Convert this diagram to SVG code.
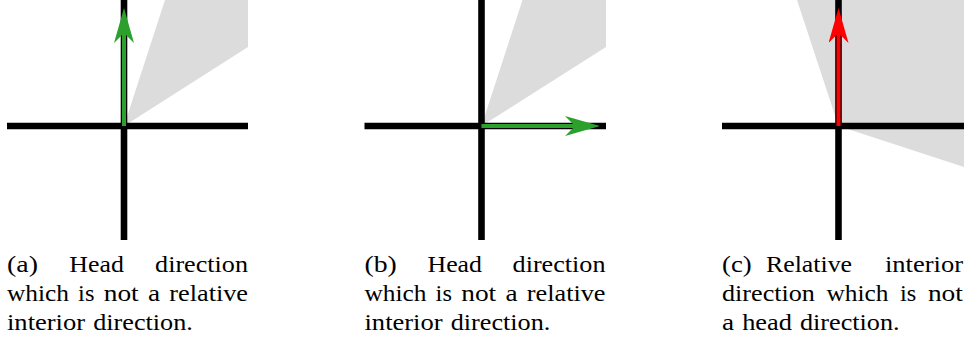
<svg xmlns="http://www.w3.org/2000/svg" width="964" height="343" viewBox="0 0 964 343">
<style>
.bg{fill:#ffffff}
.cone{fill:#dcdcdc;stroke:none}
.axis{stroke:#000000;stroke-width:6.6;fill:none;stroke-linecap:butt}
.dir-g{stroke:#2ca02c;stroke-width:4;fill:none}
.dir-r{stroke:#ff0000;stroke-width:4;fill:none}
.cap{font-family:"Liberation Serif","Times New Roman",serif;font-size:24px;fill:#000000}
</style>
<defs>
<marker id="ah-g" viewBox="0 0 35 20" refX="10" refY="10" markerWidth="35" markerHeight="20" markerUnits="userSpaceOnUse" orient="auto">
<path d="M35,10 L0,0 L10,10 L0,20 Z" fill="#2ca02c"/>
</marker>
<marker id="ah-r" viewBox="0 0 35 20" refX="10" refY="10" markerWidth="35" markerHeight="20" markerUnits="userSpaceOnUse" orient="auto">
<path d="M35,10 L0,0 L10,10 L0,20 Z" fill="#ff0000"/>
</marker>
</defs>
<rect class="bg" x="0" y="0" width="964" height="343"/>

<g id="panel-a">
<polygon class="cone" points="124,126 165,0 248,0 248,47"/>
<line class="axis" x1="7" y1="126" x2="248" y2="126"/>
<line class="axis" x1="124" y1="0" x2="124" y2="240"/>
</g>

<g id="panel-b">
<polygon class="cone" points="481.5,126 522.5,0 606,0 606,47"/>
<line class="axis" x1="364.5" y1="126" x2="606" y2="126"/>
<line class="axis" x1="481.5" y1="0" x2="481.5" y2="240"/>
</g>

<g id="panel-c">
<polygon class="cone" points="797,0 964,0 964,167 838.5,126"/>
<line class="axis" x1="722" y1="126" x2="964" y2="126"/>
<line class="axis" x1="838.5" y1="0" x2="838.5" y2="240"/>
</g>

<g id="connectors">
<line class="dir-g" x1="124" y1="126" x2="124" y2="33" marker-end="url(#ah-g)"/>
<line class="dir-g" x1="481.5" y1="126" x2="575" y2="126" marker-end="url(#ah-g)"/>
<line class="dir-r" x1="838.5" y1="126" x2="838.5" y2="33" marker-end="url(#ah-r)"/>
</g>

<g id="caption-a" class="cap">
<text x="7" y="272" textLength="30.9" lengthAdjust="spacingAndGlyphs">(a)</text>
<text x="69.3" y="272" textLength="54.5" lengthAdjust="spacingAndGlyphs">Head</text>
<text x="155.1" y="272" textLength="92.9" lengthAdjust="spacingAndGlyphs">direction</text>
<text x="7" y="301" textLength="61.9" lengthAdjust="spacingAndGlyphs">which</text>
<text x="78.1" y="301" textLength="16.3" lengthAdjust="spacingAndGlyphs">is</text>
<text x="103.7" y="301" textLength="35" lengthAdjust="spacingAndGlyphs">not</text>
<text x="147.9" y="301" textLength="12.1" lengthAdjust="spacingAndGlyphs">a</text>
<text x="169.3" y="301" textLength="78.7" lengthAdjust="spacingAndGlyphs">relative</text>
<text x="7" y="330" textLength="78.1" lengthAdjust="spacingAndGlyphs">interior</text>
<text x="93.2" y="330" textLength="99.6" lengthAdjust="spacingAndGlyphs">direction.</text>
</g>

<g id="caption-b" class="cap">
<text x="364.5" y="272" textLength="32.3" lengthAdjust="spacingAndGlyphs">(b)</text>
<text x="427.5" y="272" textLength="54.5" lengthAdjust="spacingAndGlyphs">Head</text>
<text x="512.6" y="272" textLength="92.9" lengthAdjust="spacingAndGlyphs">direction</text>
<text x="364.5" y="301" textLength="61.9" lengthAdjust="spacingAndGlyphs">which</text>
<text x="435.6" y="301" textLength="16.3" lengthAdjust="spacingAndGlyphs">is</text>
<text x="461.2" y="301" textLength="35" lengthAdjust="spacingAndGlyphs">not</text>
<text x="505.4" y="301" textLength="12.1" lengthAdjust="spacingAndGlyphs">a</text>
<text x="526.8" y="301" textLength="78.7" lengthAdjust="spacingAndGlyphs">relative</text>
<text x="364.5" y="330" textLength="78.1" lengthAdjust="spacingAndGlyphs">interior</text>
<text x="450.7" y="330" textLength="99.6" lengthAdjust="spacingAndGlyphs">direction.</text>
</g>

<g id="caption-c" class="cap">
<text x="722" y="272" textLength="29.6" lengthAdjust="spacingAndGlyphs">(c)</text>
<text x="766" y="272" textLength="86" lengthAdjust="spacingAndGlyphs">Relative</text>
<text x="885" y="272" textLength="78" lengthAdjust="spacingAndGlyphs">interior</text>
<text x="722" y="301" textLength="92.9" lengthAdjust="spacingAndGlyphs">direction</text>
<text x="826.5" y="301" textLength="61.9" lengthAdjust="spacingAndGlyphs">which</text>
<text x="900" y="301" textLength="16.3" lengthAdjust="spacingAndGlyphs">is</text>
<text x="927.9" y="301" textLength="35" lengthAdjust="spacingAndGlyphs">not</text>
<text x="722" y="330" textLength="12.1" lengthAdjust="spacingAndGlyphs">a</text>
<text x="742.2" y="330" textLength="49.8" lengthAdjust="spacingAndGlyphs">head</text>
<text x="800" y="330" textLength="99.6" lengthAdjust="spacingAndGlyphs">direction.</text>
</g>
</svg>
